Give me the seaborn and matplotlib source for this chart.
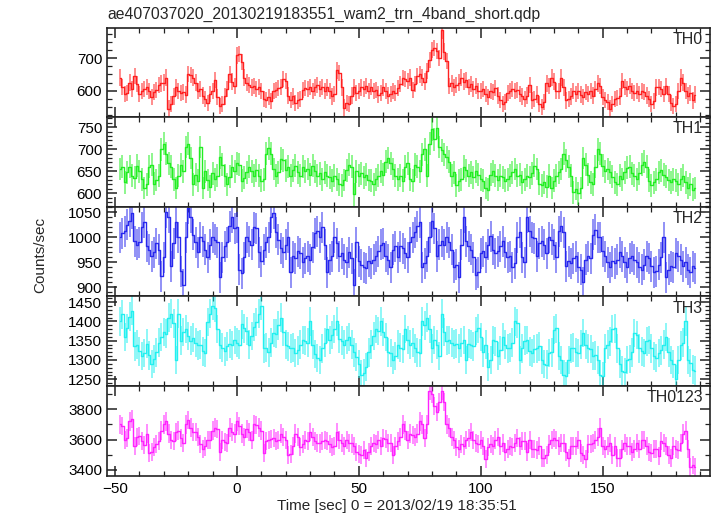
import numpy as np
import matplotlib
matplotlib.use("Agg")
import matplotlib.pyplot as plt
import seaborn as sns
from matplotlib.ticker import MultipleLocator

# light curve bins: 1 s, from -48 s to 188 s
t_first, t_last = -48, 188
time = np.arange(t_first, t_last + 1)

th0 = [640,612,590,592,625,605,645,620,590,600,
       605,612,600,580,596,602,618,622,625,640,
       545,560,582,610,598,592,596,588,652,648,
       640,625,600,605,585,575,562,590,598,632,
       580,552,560,582,605,650,628,615,708,712,
       688,640,625,618,610,615,605,612,600,575,
       572,580,568,598,602,608,612,635,630,585,
       572,582,562,570,575,602,608,604,612,598,
       610,618,605,612,598,610,600,582,590,662,
       655,610,548,562,558,585,612,592,598,610,
       605,615,600,612,598,602,588,592,610,598,
       585,590,600,592,608,620,638,636,630,640,
       602,620,645,650,640,628,660,695,725,730,
       722,700,785,720,690,615,622,610,618,625,
       640,628,632,612,620,605,615,600,598,605,
       590,580,600,595,608,585,572,560,565,592,
       600,605,598,602,590,582,575,585,618,570,
       575,588,560,550,565,622,615,640,628,600,
       598,640,610,570,575,582,598,590,600,588,
       580,595,590,598,585,605,622,615,580,572,
       565,545,560,575,578,582,630,612,605,615,
       600,592,598,590,600,595,585,575,560,568,
       610,612,605,590,615,590,562,552,560,600,
       640,625,600,585,592,570,588]

th1 = [655,660,625,648,660,640,635,662,650,632,
       612,620,660,665,622,630,640,700,712,690,
       668,660,632,612,640,665,650,705,712,680,
       620,642,628,705,612,650,630,615,645,632,
       640,682,665,640,620,638,660,650,668,665,
       628,635,648,660,650,640,652,640,628,632,
       690,702,690,655,640,648,678,675,652,660,
       640,652,662,648,640,660,650,655,642,662,
       650,640,645,632,648,640,636,628,640,632,
       620,618,630,652,665,660,598,650,640,645,
       636,642,630,628,620,632,640,650,642,672,
       680,668,655,640,632,640,628,660,668,632,
       628,665,660,650,688,700,640,712,745,722,
       748,705,698,688,682,672,640,648,618,628,
       632,660,652,640,648,636,650,642,632,628,
       612,608,642,650,640,630,640,636,628,632,
       640,648,655,640,642,625,632,640,636,645,
       662,655,622,618,625,615,640,612,628,640,
       648,655,690,675,660,640,602,610,600,612,
       680,665,642,625,620,660,700,690,662,650,
       655,648,638,625,620,640,632,648,658,660,
       645,640,632,645,665,672,660,628,618,625,
       632,648,652,642,638,630,625,632,628,620,
       632,640,625,612,620,608,612]

th2 = [1000,1008,1012,1025,1032,1048,992,985,990,1020,
       1030,982,975,962,970,988,975,922,960,1050,
       1040,942,988,1030,1000,932,905,1000,1058,1040,
       1005,990,970,1000,992,975,960,985,1000,995,
       990,920,960,982,990,1022,1040,1018,1020,935,
       928,960,1000,992,985,1020,1018,970,952,975,
       990,1000,1040,1048,1010,995,978,970,985,1000,
       930,962,958,972,968,950,958,962,955,980,
       1008,1012,1000,1020,985,930,955,962,1000,988,
       962,968,955,950,970,958,905,990,952,945,
       940,938,952,948,955,962,972,985,988,962,
       955,940,975,982,960,982,978,968,960,990,
       1000,1010,1022,1030,940,948,962,1000,1032,1018,
       962,985,992,985,1000,990,975,940,945,920,
       985,1040,992,982,975,960,925,930,968,972,
       960,985,1002,975,968,972,982,992,970,960,
       962,940,948,1000,1010,960,950,1040,1012,1000,
       998,962,988,992,985,968,1000,995,985,960,
       1012,1022,1010,942,952,948,958,962,940,935,
       910,955,962,958,1005,1015,1000,1000,972,962,
       950,940,952,948,955,970,962,950,940,958,
       962,955,950,940,935,945,962,958,942,930,
       932,945,960,1000,920,935,942,940,968,962,
       955,942,950,935,930,942,938]

th3 = [1400,1418,1360,1382,1412,1428,1335,1340,1322,1310,
       1318,1342,1312,1290,1302,1320,1345,1360,1372,1368,
       1410,1420,1395,1300,1420,1350,1372,1380,1362,1350,
       1358,1345,1338,1340,1322,1318,1398,1420,1440,1435,
       1380,1340,1332,1322,1335,1342,1338,1352,1345,1340,
       1392,1382,1375,1340,1362,1385,1398,1420,1440,1330,
       1332,1320,1345,1370,1368,1390,1410,1372,1340,1335,
       1330,1332,1318,1325,1340,1352,1350,1345,1400,1340,
       1315,1305,1300,1330,1345,1380,1352,1365,1380,1400,
       1355,1350,1340,1352,1360,1340,1320,1308,1290,1262,
       1265,1282,1320,1340,1362,1380,1375,1400,1372,1360,
       1320,1318,1300,1310,1340,1332,1328,1380,1352,1340,
       1345,1330,1320,1318,1400,1390,1410,1380,1330,1352,
       1340,1310,1420,1372,1350,1352,1345,1340,1342,1330,
       1345,1352,1300,1342,1340,1335,1375,1382,1360,1320,
       1340,1282,1300,1352,1348,1310,1325,1360,1340,1330,
       1332,1345,1400,1395,1300,1330,1350,1352,1322,1318,
       1328,1330,1335,1300,1290,1288,1318,1320,1378,1382,
       1310,1300,1262,1258,1300,1330,1332,1320,1318,1340,
       1370,1340,1330,1328,1310,1312,1300,1262,1258,1330,
       1340,1348,1380,1382,1330,1290,1272,1268,1300,1302,
       1320,1370,1365,1330,1322,1318,1348,1352,1330,1310,
       1305,1318,1325,1340,1360,1320,1300,1290,1250,1300,
       1338,1345,1400,1300,1292,1275,1272]

th0123 = [3700,3690,3600,3610,3720,3735,3560,3615,3625,3590,
          3565,3640,3510,3520,3550,3570,3590,3660,3700,3720,
          3640,3600,3590,3650,3660,3610,3580,3700,3730,3680,
          3650,3650,3620,3570,3540,3555,3600,3600,3660,3680,
          3670,3520,3600,3585,3580,3680,3650,3640,3720,3690,
          3640,3620,3670,3650,3600,3700,3695,3680,3660,3510,
          3590,3600,3605,3610,3590,3600,3640,3620,3600,3500,
          3505,3560,3640,3620,3550,3570,3600,3590,3650,3620,
          3590,3580,3575,3590,3600,3590,3570,3550,3560,3650,
          3600,3580,3560,3600,3580,3575,3560,3520,3505,3500,
          3530,3480,3520,3560,3580,3570,3600,3560,3610,3605,
          3580,3580,3500,3560,3590,3620,3700,3660,3600,3640,
          3630,3620,3640,3720,3700,3610,3700,3920,3900,3820,
          3780,3850,3920,3850,3700,3680,3620,3600,3550,3540,
          3570,3560,3600,3610,3650,3600,3580,3570,3600,3560,
          3470,3550,3570,3560,3600,3620,3560,3580,3520,3540,
          3560,3550,3580,3610,3560,3590,3590,3520,3600,3540,
          3540,3530,3560,3480,3480,3500,3570,3600,3610,3600,
          3560,3580,3580,3520,3480,3560,3560,3560,3600,3510,
          3500,3470,3570,3570,3580,3600,3620,3680,3560,3540,
          3560,3580,3500,3560,3480,3480,3540,3580,3560,3560,
          3520,3540,3580,3540,3600,3600,3560,3520,3510,3540,
          3540,3490,3590,3580,3560,3500,3480,3560,3540,3530,
          3580,3640,3660,3540,3420,3430,3420]

band_names = ["TH0", "TH1", "TH2", "TH3", "TH0123"]
band_rates = [th0, th1, th2, th3, th0123]
band_errors = [25, 26, 31, 37, 60]
band_colors = ["#ff2020", "#22ee22", "#2828ee", "#22f0f0", "#ff22ff"]
y_limits = [(519, 794), (569.5, 773), (882, 1061.5), (1232.5, 1465), (3360, 3954)]
y_major = [100, 50, 50, 50, 200]
y_minor = [25, 10, 10, 10, 100]

sns.set_theme(style="ticks")
plt.rcParams["font.family"] = ["Liberation Sans", "DejaVu Sans"]

W, H = 717, 516
fig = plt.figure(figsize=(W / 100, H / 100), dpi=100)

left, right = 107, 710
edges = [27.5, 117, 206.7, 296.3, 386, 476]

axes = []
for i in range(5):
    top_px, bot_px = edges[i], edges[i + 1]
    ax = fig.add_axes([left / W, 1 - bot_px / H, (right - left) / W, (bot_px - top_px) / H])
    axes.append(ax)
    y = np.array(band_rates[i], dtype=float)
    c = band_colors[i]
    ax.errorbar(time, y, yerr=band_errors[i], fmt="none", ecolor=c,
                elinewidth=1.1, alpha=0.65, capsize=0)
    sns.lineplot(x=time, y=y, ax=ax, color=c, lw=1.0, drawstyle="steps-mid")
    ax.set_xlim(-53.3, 194)
    ax.set_ylim(*y_limits[i])
    ax.xaxis.set_major_locator(MultipleLocator(50))
    ax.xaxis.set_minor_locator(MultipleLocator(10))
    ax.yaxis.set_major_locator(MultipleLocator(y_major[i]))
    ax.yaxis.set_minor_locator(MultipleLocator(y_minor[i]))
    ax.tick_params(which="both", direction="in", top=True, right=True,
                   colors="#222222", labelcolor="black", labelsize=11)
    ax.tick_params(which="major", length=7, width=1.1)
    ax.tick_params(which="minor", length=3.5, width=0.9)
    for s in ax.spines.values():
        s.set_linewidth(1.2)
        s.set_color("#222222")
    ax.set_xlabel("")
    ax.set_ylabel("")
    if i < 4:
        ax.tick_params(labelbottom=False)
    ax.text(0.988, 0.95, band_names[i], transform=ax.transAxes,
            ha="right", va="top", fontsize=11.5)

axes[-1].tick_params(axis="x", pad=4)

fig.text(107 / W, 1 - 14 / H, "ae407037020_20130219183551_wam2_trn_4band_short.qdp",
         ha="left", va="center", fontsize=11.3)
fig.text(397 / W, 1 - 506 / H, "Time [sec] 0 = 2013/02/19 18:35:51",
         ha="center", va="center", fontsize=11)
fig.text(40 / W, 1 - 255 / H, "Counts/sec", rotation=90,
         ha="center", va="center", fontsize=11)

fig.savefig("out.png", dpi=100)
